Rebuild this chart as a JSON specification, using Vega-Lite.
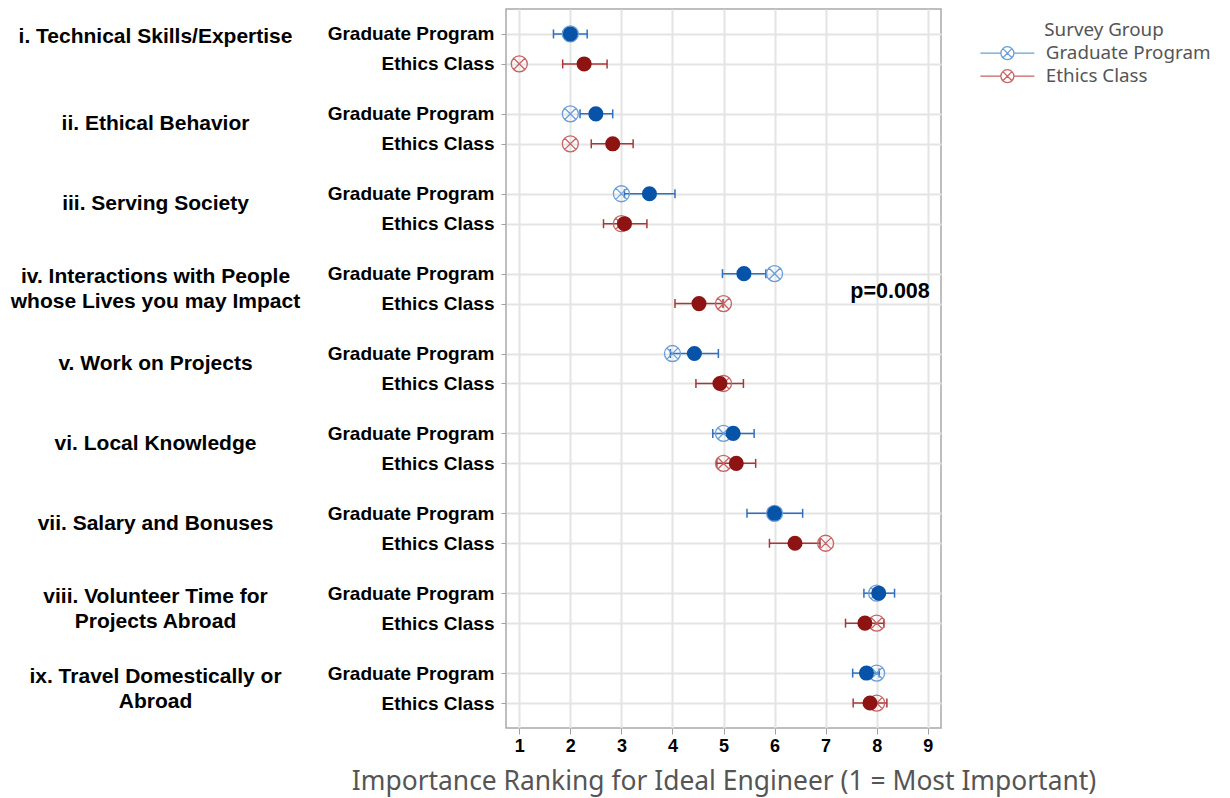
{
  "$schema": "https://vega.github.io/schema/vega-lite/v6.json",
  "width": 435,
  "height": 719,
  "autosize": "none",
  "padding": {"left": 506, "top": 9, "right": 289, "bottom": 70},
  "background": "white",
  "config": {"view": {"stroke": "#a9a9a9", "strokeWidth": 1.5}, "font": "Liberation Sans"},
  "data": {"values": [
    {"category": "i. Technical Skills/Expertise", "group": "Graduate Program", "mean": 2.0, "lo": 1.67, "hi": 2.33, "median": 2},
    {"category": "i. Technical Skills/Expertise", "group": "Ethics Class", "mean": 2.27, "lo": 1.85, "hi": 2.72, "median": 1},
    {"category": "ii. Ethical Behavior", "group": "Graduate Program", "mean": 2.5, "lo": 2.19, "hi": 2.83, "median": 2},
    {"category": "ii. Ethical Behavior", "group": "Ethics Class", "mean": 2.83, "lo": 2.41, "hi": 3.23, "median": 2},
    {"category": "iii. Serving Society", "group": "Graduate Program", "mean": 3.55, "lo": 3.06, "hi": 4.05, "median": 3},
    {"category": "iii. Serving Society", "group": "Ethics Class", "mean": 3.06, "lo": 2.65, "hi": 3.5, "median": 3},
    {"category": "iv. Interactions with People\nwhose Lives you may Impact", "group": "Graduate Program", "mean": 5.4, "lo": 4.98, "hi": 5.83, "median": 6},
    {"category": "iv. Interactions with People\nwhose Lives you may Impact", "group": "Ethics Class", "mean": 4.52, "lo": 4.05, "hi": 4.99, "median": 5},
    {"category": "v. Work on Projects", "group": "Graduate Program", "mean": 4.43, "lo": 3.96, "hi": 4.9, "median": 4},
    {"category": "v. Work on Projects", "group": "Ethics Class", "mean": 4.93, "lo": 4.46, "hi": 5.39, "median": 5},
    {"category": "vi. Local Knowledge", "group": "Graduate Program", "mean": 5.19, "lo": 4.79, "hi": 5.6, "median": 5},
    {"category": "vi. Local Knowledge", "group": "Ethics Class", "mean": 5.25, "lo": 4.87, "hi": 5.63, "median": 5},
    {"category": "vii. Salary and Bonuses", "group": "Graduate Program", "mean": 6.0, "lo": 5.46, "hi": 6.55, "median": 6},
    {"category": "vii. Salary and Bonuses", "group": "Ethics Class", "mean": 6.4, "lo": 5.9, "hi": 6.89, "median": 7},
    {"category": "viii. Volunteer Time for\nProjects Abroad", "group": "Graduate Program", "mean": 8.04, "lo": 7.75, "hi": 8.35, "median": 8},
    {"category": "viii. Volunteer Time for\nProjects Abroad", "group": "Ethics Class", "mean": 7.77, "lo": 7.39, "hi": 8.14, "median": 8},
    {"category": "ix. Travel Domestically or\nAbroad", "group": "Graduate Program", "mean": 7.8, "lo": 7.53, "hi": 8.05, "median": 8},
    {"category": "ix. Travel Domestically or\nAbroad", "group": "Ethics Class", "mean": 7.87, "lo": 7.54, "hi": 8.2, "median": 8}
  ]},
  "transform": [{"calculate": "datum.category + '|' + datum.group", "as": "key"}],
  "resolve": {"axis": {"y": "independent"}},
  "layer": [
    {
      "encoding": {
        "y": {
          "field": "key", "type": "nominal",
          "scale": {"type": "point", "padding": 0.5, "domain": [
            "0|a", "0|b",
            "i. Technical Skills/Expertise|Graduate Program", "i|a", "i|b", "i. Technical Skills/Expertise|Ethics Class", "i|c", "i|d", "i|e", "i|f",
            "ii. Ethical Behavior|Graduate Program", "ii|a", "ii|b", "ii. Ethical Behavior|Ethics Class", "ii|c", "ii|d", "ii|e", "ii|f",
            "iii. Serving Society|Graduate Program", "iii|a", "iii|b", "iii. Serving Society|Ethics Class", "iii|c", "iii|d", "iii|e", "iii|f",
            "iv. Interactions with People\nwhose Lives you may Impact|Graduate Program", "iv|a", "iv|b", "iv. Interactions with People\nwhose Lives you may Impact|Ethics Class", "iv|c", "iv|d", "iv|e", "iv|f",
            "v. Work on Projects|Graduate Program", "v|a", "v|b", "v. Work on Projects|Ethics Class", "v|c", "v|d", "v|e", "v|f",
            "vi. Local Knowledge|Graduate Program", "vi|a", "vi|b", "vi. Local Knowledge|Ethics Class", "vi|c", "vi|d", "vi|e", "vi|f",
            "vii. Salary and Bonuses|Graduate Program", "vii|a", "vii|b", "vii. Salary and Bonuses|Ethics Class", "vii|c", "vii|d", "vii|e", "vii|f",
            "viii. Volunteer Time for\nProjects Abroad|Graduate Program", "viii|a", "viii|b", "viii. Volunteer Time for\nProjects Abroad|Ethics Class", "viii|c", "viii|d", "viii|e", "viii|f",
            "ix. Travel Domestically or\nAbroad|Graduate Program", "ix|a", "ix|b", "ix. Travel Domestically or\nAbroad|Ethics Class", "ix|c", "ix|d"
          ]},
          "axis": {
            "orient": "left", "title": null, "domain": false,
            "values": [
              "i. Technical Skills/Expertise|Graduate Program", "i. Technical Skills/Expertise|Ethics Class",
              "ii. Ethical Behavior|Graduate Program", "ii. Ethical Behavior|Ethics Class",
              "iii. Serving Society|Graduate Program", "iii. Serving Society|Ethics Class",
              "iv. Interactions with People\nwhose Lives you may Impact|Graduate Program", "iv. Interactions with People\nwhose Lives you may Impact|Ethics Class",
              "v. Work on Projects|Graduate Program", "v. Work on Projects|Ethics Class",
              "vi. Local Knowledge|Graduate Program", "vi. Local Knowledge|Ethics Class",
              "vii. Salary and Bonuses|Graduate Program", "vii. Salary and Bonuses|Ethics Class",
              "viii. Volunteer Time for\nProjects Abroad|Graduate Program", "viii. Volunteer Time for\nProjects Abroad|Ethics Class",
              "ix. Travel Domestically or\nAbroad|Graduate Program", "ix. Travel Domestically or\nAbroad|Ethics Class"
            ],
            "labelExpr": "split(datum.value, '|')[1]",
            "ticks": true, "tickSize": 5, "tickColor": "#a0a0a0", "tickWidth": 1,
            "grid": true, "gridColor": "#e4e4e4", "gridWidth": 2,
            "labelPadding": 7, "labelFont": "Liberation Sans", "labelFontWeight": "bold", "labelFontSize": 19, "labelColor": "black", "labelLimit": 0
          }
        }
      },
      "layer": [
        {
          "mark": {"type": "rule", "strokeWidth": 1.5},
          "encoding": {
            "x": {"field": "lo", "type": "quantitative", "scale": {"domain": [0.74, 9.26], "nice": false, "zero": false},
              "axis": {"values": [1, 2, 3, 4, 5, 6, 7, 8, 9], "format": "d", "title": "Importance Ranking for Ideal Engineer (1 = Most Important)",
                "titleFont": "Noto Sans", "titleFontSize": 26.4, "titleFontWeight": "normal", "titleColor": "#555555", "titlePadding": 13,
                "labelFont": "Liberation Sans", "labelFontWeight": "bold", "labelFontSize": 18, "labelColor": "black", "labelPadding": 3,
                "tickSize": 6, "tickColor": "#a0a0a0", "domain": false, "grid": true, "gridColor": "#e4e4e4", "gridWidth": 2}},
            "x2": {"field": "hi"},
            "stroke": {"field": "group", "type": "nominal", "scale": {"domain": ["Ethics Class", "Graduate Program"], "range": ["#a83838", "#2e6fc0"]}, "legend": null}
          }
        },
        {
          "mark": {"type": "point", "filled": false, "shape": "M0,-1L0,1", "size": 81, "strokeWidth": 1.5, "opacity": 1},
          "encoding": {
            "x": {"field": "lo", "type": "quantitative", "scale": {"domain": [0.74, 9.26], "nice": false, "zero": false}},
            "stroke": {"field": "group", "type": "nominal", "legend": null}
          }
        },
        {
          "mark": {"type": "point", "filled": false, "shape": "M0,-1L0,1", "size": 81, "strokeWidth": 1.5, "opacity": 1},
          "encoding": {
            "x": {"field": "hi", "type": "quantitative", "scale": {"domain": [0.74, 9.26], "nice": false, "zero": false}},
            "stroke": {"field": "group", "type": "nominal", "legend": null}
          }
        },
        {
          "mark": {"type": "point", "filled": false, "size": 256, "strokeWidth": 1.3, "opacity": 1,
            "shape": "M-1,0A1,1,0,1,1,1,0A1,1,0,1,1,-1,0ZM-0.7,-0.7L0.7,0.7M-0.7,0.7L0.7,-0.7"},
          "encoding": {
            "x": {"field": "median", "type": "quantitative", "scale": {"domain": [0.74, 9.26], "nice": false, "zero": false}},
            "color": {"field": "group", "type": "nominal", "scale": {"domain": ["Graduate Program", "Ethics Class"], "range": ["#6a9ed8", "#c96262"]},
              "legend": {"title": "Survey Group", "orient": "right", "offset": 45, "padding": 12,
                "symbolType": "M-4.15,0L-1,0M1,0L4.15,0M-1,0A1,1,0,1,1,1,0A1,1,0,1,1,-1,0ZM-0.7,-0.7L0.7,0.7M-0.7,0.7L0.7,-0.7",
                "symbolSize": 169, "symbolStrokeWidth": 1.3, "symbolFillColor": "transparent",
                "labelFont": "Noto Sans", "labelFontSize": 18.8, "labelColor": "#555555", "labelOffset": 29, "labelLimit": 400,
                "titleFont": "Noto Sans", "titleFontSize": 18.8, "titleFontWeight": "normal", "titleColor": "#555555", "titlePadding": 4, "titleLimit": 400,
                "titleAnchor": "middle", "titleAlign": "center",
                "rowPadding": 3}}
          }
        }
      ]
    },
    {
      "mark": {"type": "point", "filled": true, "shape": "circle", "size": 227, "opacity": 1},
      "encoding": {
        "x": {"field": "mean", "type": "quantitative", "scale": {"domain": [0.74, 9.26], "nice": false, "zero": false}},
        "fill": {"field": "group", "type": "nominal", "scale": {"domain": ["Ethics Class", "Graduate Program"], "range": ["#8e1414", "#0653a8"]}, "legend": null},
        "y": {
          "field": "key", "type": "nominal",
          "scale": {"type": "point", "padding": 0.5, "domain": [
            "0|a", "0|b",
            "i. Technical Skills/Expertise|Graduate Program", "i|a", "i|b", "i. Technical Skills/Expertise|Ethics Class", "i|c", "i|d", "i|e", "i|f",
            "ii. Ethical Behavior|Graduate Program", "ii|a", "ii|b", "ii. Ethical Behavior|Ethics Class", "ii|c", "ii|d", "ii|e", "ii|f",
            "iii. Serving Society|Graduate Program", "iii|a", "iii|b", "iii. Serving Society|Ethics Class", "iii|c", "iii|d", "iii|e", "iii|f",
            "iv. Interactions with People\nwhose Lives you may Impact|Graduate Program", "iv|a", "iv|b", "iv. Interactions with People\nwhose Lives you may Impact|Ethics Class", "iv|c", "iv|d", "iv|e", "iv|f",
            "v. Work on Projects|Graduate Program", "v|a", "v|b", "v. Work on Projects|Ethics Class", "v|c", "v|d", "v|e", "v|f",
            "vi. Local Knowledge|Graduate Program", "vi|a", "vi|b", "vi. Local Knowledge|Ethics Class", "vi|c", "vi|d", "vi|e", "vi|f",
            "vii. Salary and Bonuses|Graduate Program", "vii|a", "vii|b", "vii. Salary and Bonuses|Ethics Class", "vii|c", "vii|d", "vii|e", "vii|f",
            "viii. Volunteer Time for\nProjects Abroad|Graduate Program", "viii|a", "viii|b", "viii. Volunteer Time for\nProjects Abroad|Ethics Class", "viii|c", "viii|d", "viii|e", "viii|f",
            "ix. Travel Domestically or\nAbroad|Graduate Program", "ix|a", "ix|b", "ix. Travel Domestically or\nAbroad|Ethics Class", "ix|c", "ix|d"
          ]},
          "axis": {
            "orient": "left", "title": null, "domain": false, "grid": false, "ticks": false, "tickSize": 0,
            "values": [
              "i. Technical Skills/Expertise|Graduate Program",
              "ii. Ethical Behavior|Graduate Program",
              "iii. Serving Society|Graduate Program",
              "iv. Interactions with People\nwhose Lives you may Impact|Graduate Program",
              "v. Work on Projects|Graduate Program",
              "vi. Local Knowledge|Graduate Program",
              "vii. Salary and Bonuses|Graduate Program",
              "viii. Volunteer Time for\nProjects Abroad|Graduate Program",
              "ix. Travel Domestically or\nAbroad|Graduate Program"
            ],
            "labelExpr": "split(split(datum.value, '|')[0], '\\n')",
            "labelAlign": "center", "labelBaseline": "middle", "labelPadding": 351,
            "labelOffset": {"condition": {"test": "indexof(datum.value, '\\n') >= 0 || indexof(datum.value, 'i. ') == 0", "value": 3}, "value": 10},
            "labelFont": "Liberation Sans", "labelFontWeight": "bold", "labelFontSize": 21, "labelColor": "black", "labelLineHeight": 25, "labelLimit": 0
          }
        }
      }
    },
    {
      "data": {"values": [{"label": "p=0.008", "pos": 9.04, "row": "iv|a"}]},
      "mark": {"type": "text", "align": "right", "baseline": "top", "dy": -3, "font": "Liberation Sans", "fontWeight": "bold", "fontSize": 21.5, "color": "black"},
      "encoding": {
        "x": {"field": "pos", "type": "quantitative", "scale": {"domain": [0.74, 9.26], "nice": false, "zero": false}},
        "y": {"field": "row", "type": "nominal", "axis": null,
          "scale": {"type": "point", "padding": 0.5, "domain": [
            "0|a", "0|b",
            "i. Technical Skills/Expertise|Graduate Program", "i|a", "i|b", "i. Technical Skills/Expertise|Ethics Class", "i|c", "i|d", "i|e", "i|f",
            "ii. Ethical Behavior|Graduate Program", "ii|a", "ii|b", "ii. Ethical Behavior|Ethics Class", "ii|c", "ii|d", "ii|e", "ii|f",
            "iii. Serving Society|Graduate Program", "iii|a", "iii|b", "iii. Serving Society|Ethics Class", "iii|c", "iii|d", "iii|e", "iii|f",
            "iv. Interactions with People\nwhose Lives you may Impact|Graduate Program", "iv|a", "iv|b", "iv. Interactions with People\nwhose Lives you may Impact|Ethics Class", "iv|c", "iv|d", "iv|e", "iv|f",
            "v. Work on Projects|Graduate Program", "v|a", "v|b", "v. Work on Projects|Ethics Class", "v|c", "v|d", "v|e", "v|f",
            "vi. Local Knowledge|Graduate Program", "vi|a", "vi|b", "vi. Local Knowledge|Ethics Class", "vi|c", "vi|d", "vi|e", "vi|f",
            "vii. Salary and Bonuses|Graduate Program", "vii|a", "vii|b", "vii. Salary and Bonuses|Ethics Class", "vii|c", "vii|d", "vii|e", "vii|f",
            "viii. Volunteer Time for\nProjects Abroad|Graduate Program", "viii|a", "viii|b", "viii. Volunteer Time for\nProjects Abroad|Ethics Class", "viii|c", "viii|d", "viii|e", "viii|f",
            "ix. Travel Domestically or\nAbroad|Graduate Program", "ix|a", "ix|b", "ix. Travel Domestically or\nAbroad|Ethics Class", "ix|c", "ix|d"
          ]}},
        "text": {"field": "label"}
      }
    }
  ]
}
